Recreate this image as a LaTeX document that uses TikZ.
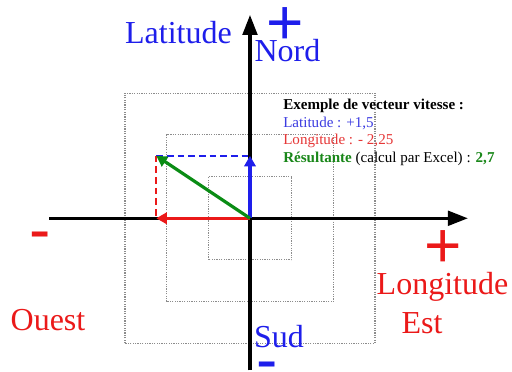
\documentclass[tikz,border=0pt]{standalone}
\usepackage{fontspec}
\setmainfont{Liberation Serif}
\newfontfamily\signfont{Liberation Sans}
\usetikzlibrary{arrows.meta}
\definecolor{axblue}{RGB}{30,30,235}
\definecolor{axred}{RGB}{235,25,25}
\definecolor{vecgreen}{RGB}{10,140,20}
\definecolor{legblue}{RGB}{60,60,225}
\definecolor{legred}{RGB}{230,55,55}
\definecolor{leggreen}{RGB}{25,135,25}
\tikzset{
  axis/.style={line width=2.3pt, -{Triangle[length=15pt,width=11pt]}},
  vec/.style={line width=2.4pt, -{Triangle[length=8pt,width=8.5pt]}},
  proj/.style={line width=1.6pt, dash pattern=on 5pt off 3pt},
  gridsq/.style={draw=gray!90, line width=0.8pt, dash pattern=on 0.9pt off 0.9pt},
  big/.style={font=\fontsize{24}{24}\selectfont, inner sep=0pt, anchor=base},
  sign/.style={font=\signfont\fontsize{48}{48}\selectfont, inner sep=0pt, anchor=base},
  legend/.style={font=\fontsize{11.3}{13}\selectfont, inner sep=0pt, anchor=base west}
}
\begin{document}
\begin{tikzpicture}[x=31.25pt,y=31.25pt]
  \useasboundingbox (-6,-3.689) rectangle (6.288,5.239);
  \fill[white] (-6,-3.689) rectangle (6.288,5.239);
  % dotted squares
  \foreach \s in {1,2,3}
    \draw[gridsq] (-\s,-\s) rectangle (\s,\s);
  % axes
  \coordinate (O) at (0,0);
  \coordinate (W) at (-4.82,0);
  \coordinate (E) at (5.23,0);
  \coordinate (S) at (0,-3.65);
  \coordinate (N) at (0,4.88);
  \draw[axis] (W) -- (E);
  \draw[axis] (S) -- (N);
  % speed vector
  \coordinate (lat) at (0,1.5);
  \coordinate (lon) at (-2.25,0);
  \coordinate (res) at (-2.25,1.5);
  \draw[proj, axblue] (res) -- (lat);
  \draw[proj, axred] (res) -- (lon);
  \draw[vec, axred] (O) -- (lon);
  \draw[vec, axblue] (O) -- (lat);
  \draw[vec, vecgreen] (O) -- (res);
  % labels
  \node[big, axblue] (latlbl) at (-1.716,4.207) {Latitude};
  \node[big, axblue] (nord) at (0.90,3.775) {Nord};
  \node[big, axblue] (sud) at (0.696,-3.112) {Sud};
  \node[big, axred] (lonlbl) at (4.62,-1.817) {Longitude};
  \node[big, axred] (est) at (4.128,-2.753) {Est};
  \node[big, axred] (ouest) at (-4.848,-2.681) {Ouest};
  \node[sign, axblue] (nplus) at (0.84,4.16) {+};
  \node[sign, axred] (eplus) at (4.644,-1.19) {+};
  \node[sign, axred] (wminus) at (-5.028,-0.80) {-};
  \node[sign, axblue] (sminus) at (0.42,-3.91) {-};
  % legend
  \node[legend] (leg1) at (0.792,2.62) {\textbf{Exemple de vecteur vitesse :}};
  \node[legend, legblue] (leg2) at (0.792,2.189) {Latitude : +1,5};
  \node[legend, legred] (leg3) at (0.792,1.781) {Longitude : - 2,25};
  \node[legend] (leg4) at (0.792,1.349) {\textcolor{leggreen}{\textbf{Résultante}} (calcul par Excel) : \textcolor{leggreen}{\textbf{2,7}}};
\end{tikzpicture}
\end{document}
